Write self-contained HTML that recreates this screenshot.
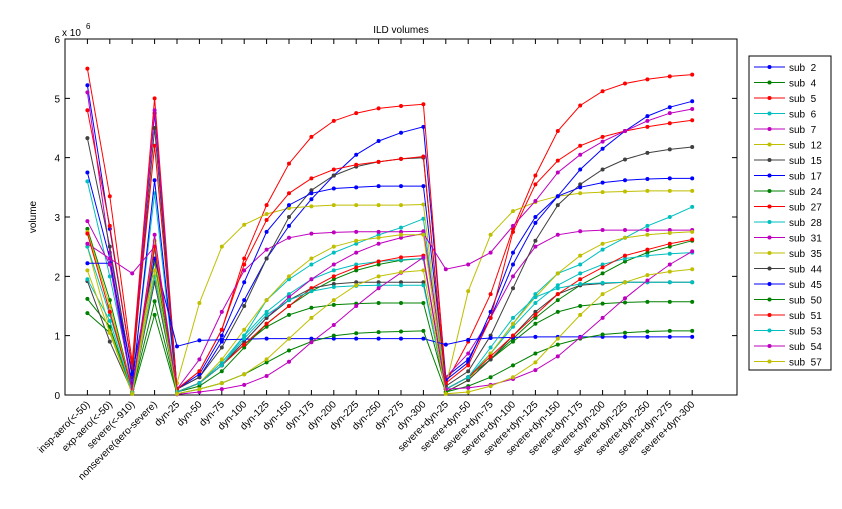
<!DOCTYPE html>
<html><head><meta charset="utf-8"><style>
body{margin:0;background:#fff;}
svg{display:block;font-family:"Liberation Sans",sans-serif;}
</style></head><body>
<svg id="chart" width="842" height="509" xmlns="http://www.w3.org/2000/svg">
<rect width="842" height="509" fill="#fff"/>
<text x="401" y="33" font-size="10" text-anchor="middle">ILD volumes</text>
<text transform="translate(36,217) rotate(-90)" font-size="10" text-anchor="middle">volume</text>
<text x="62" y="36" font-size="10">x 10</text>
<text x="86" y="29" font-size="8">6</text>
<g id="plot"></g>
<g id="legend"></g>
</svg>
<script>
const categories = ["insp-aero(<-50)","exp-aero(<-50)","severe(<-910)","nonsevere(aero-severe)",
"dyn-25","dyn-50","dyn-75","dyn-100","dyn-125","dyn-150","dyn-175","dyn-200","dyn-225","dyn-250","dyn-275","dyn-300",
"severe+dyn-25","severe+dyn-50","severe+dyn-75","severe+dyn-100","severe+dyn-125","severe+dyn-150","severe+dyn-175","severe+dyn-200","severe+dyn-225","severe+dyn-250","severe+dyn-275","severe+dyn-300"];
const seriesNames = ["sub 2","sub 4","sub 5","sub 6","sub 7","sub 12","sub 15","sub 17","sub 24","sub 27","sub 28","sub 31","sub 35","sub 44","sub 45","sub 50","sub 51","sub 53","sub 54","sub 57"];
const yTicks = [0,1,2,3,4,5,6];
// values in units of 1e6
const sub2  = [5.22,2.8,0.45,4.75, 0.1,0.3,0.9,1.6,2.3,2.85,3.3,3.7,4.05,4.28,4.42,4.52, 0.3,0.6,1.3,2.2,2.9,3.35,3.8,4.15,4.45,4.7,4.85,4.95];
const sub4  = [2.8,1.6,0.1,2.25, 0.05,0.15,0.4,0.8,1.2,1.5,1.75,1.95,2.1,2.2,2.27,2.3, 0.1,0.3,0.6,0.95,1.3,1.6,1.85,2.05,2.25,2.4,2.5,2.6];
const sub5  = [5.5,3.35,0.55,5.0, 0.1,0.4,1.1,2.3,3.2,3.9,4.35,4.62,4.75,4.83,4.87,4.9, 0.2,0.9,1.7,2.8,3.7,4.45,4.88,5.12,5.25,5.32,5.37,5.4];
const sub6  = [3.6,2.0,0.2,3.4, 0.05,0.2,0.5,1.0,1.6,1.95,2.2,2.4,2.55,2.7,2.82,2.97, 0.1,0.3,0.7,1.2,1.7,2.05,2.2,2.45,2.65,2.85,3.0,3.17];
const sub7  = [5.1,2.4,0.35,4.8, 0.1,0.6,1.4,2.1,2.45,2.65,2.72,2.74,2.75,2.75,2.75,2.76, 0.3,0.7,1.3,2.0,2.5,2.7,2.76,2.78,2.78,2.78,2.78,2.78];
const sub12 = [2.5,1.1,0.05,2.3, 0.2,1.55,2.5,2.87,3.05,3.15,3.18,3.2,3.2,3.2,3.2,3.21, 0.15,1.75,2.7,3.1,3.25,3.35,3.4,3.42,3.43,3.44,3.44,3.44];
const sub15 = [4.33,2.5,0.3,4.5, 0.1,0.3,0.8,1.5,2.3,3.0,3.45,3.7,3.85,3.93,3.98,4.0, 0.15,0.4,1.0,1.8,2.6,3.2,3.55,3.8,3.97,4.08,4.14,4.18];
const sub17 = [3.75,2.3,0.15,3.62, 0.1,0.35,1.0,1.9,2.75,3.2,3.4,3.48,3.5,3.52,3.52,3.52, 0.25,0.55,1.4,2.4,3.0,3.35,3.5,3.58,3.62,3.64,3.65,3.65];
const sub24 = [1.62,1.15,0.05,1.58, 0.05,0.2,0.5,0.85,1.15,1.35,1.47,1.52,1.54,1.55,1.55,1.55, 0.1,0.3,0.6,0.9,1.2,1.4,1.5,1.54,1.56,1.57,1.57,1.57];
const sub27 = [4.8,2.85,0.45,4.2, 0.1,0.4,1.1,2.2,2.95,3.4,3.65,3.8,3.88,3.93,3.98,4.02, 0.2,0.5,1.3,2.75,3.55,3.95,4.2,4.35,4.45,4.52,4.58,4.63];
const sub28 = [2.5,1.35,0.1,2.45, 0.05,0.2,0.55,1.0,1.4,1.7,1.95,2.1,2.2,2.25,2.28,2.3, 0.1,0.3,0.7,1.15,1.55,1.85,2.05,2.2,2.3,2.35,2.38,2.4];
const sub31 = [2.55,2.3,2.05,2.5, 0.05,0.2,0.5,0.9,1.3,1.65,1.95,2.2,2.4,2.55,2.65,2.72, 2.12,2.2,2.4,2.85,3.27,3.75,4.05,4.27,4.45,4.62,4.75,4.82];
const sub35 = [2.75,1.5,0.1,2.6, 0.05,0.2,0.6,1.1,1.6,2.0,2.3,2.5,2.6,2.65,2.7,2.7, 0.05,0.25,0.7,1.2,1.65,2.05,2.35,2.55,2.65,2.7,2.73,2.75];
const sub44 = [1.92,0.9,0.05,1.9, 0.05,0.2,0.5,0.9,1.3,1.6,1.8,1.87,1.9,1.9,1.9,1.9, 0.05,0.25,0.6,1.0,1.4,1.7,1.85,1.88,1.9,1.9,1.9,1.9];
const sub45 = [2.22,2.22,0.35,2.3, 0.82,0.92,0.93,0.94,0.95,0.95,0.95,0.95,0.95,0.95,0.95,0.95, 0.85,0.93,0.96,0.97,0.98,0.98,0.98,0.98,0.98,0.98,0.98,0.98];
const sub50 = [1.38,1.05,0.02,1.35, 0.02,0.1,0.2,0.35,0.55,0.75,0.9,1.0,1.04,1.06,1.07,1.08, 0.05,0.15,0.3,0.5,0.7,0.85,0.95,1.02,1.05,1.07,1.08,1.08];
const sub51 = [2.72,1.4,0.1,2.5, 0.05,0.2,0.5,0.85,1.2,1.5,1.8,2.0,2.15,2.25,2.32,2.35, 0.1,0.3,0.65,1.0,1.35,1.7,1.95,2.15,2.35,2.45,2.55,2.62];
const sub53 = [1.95,1.25,0.05,2.0, 0.05,0.2,0.5,0.95,1.35,1.6,1.75,1.82,1.84,1.85,1.85,1.85, 0.1,0.3,0.8,1.3,1.65,1.8,1.87,1.89,1.9,1.9,1.9,1.9];
const sub54 = [2.93,2.2,0.1,2.7, 0.01,0.05,0.1,0.17,0.32,0.56,0.89,1.18,1.5,1.8,2.06,2.32, 0.1,0.12,0.17,0.27,0.42,0.65,0.97,1.3,1.63,1.93,2.2,2.42];
const sub57 = [2.1,1.05,0.02,2.1, 0.02,0.1,0.2,0.35,0.6,0.95,1.3,1.6,1.85,2.0,2.07,2.1, 0.02,0.05,0.15,0.3,0.55,0.95,1.35,1.7,1.9,2.02,2.08,2.12];
const seriesValues = [sub2,sub4,sub5,sub6,sub7,sub12,sub15,sub17,sub24,sub27,sub28,sub31,sub35,sub44,sub45,sub50,sub51,sub53,sub54,sub57];
const palette = ["#0000ff","#008000","#ff0000","#00bfbf","#bf00bf","#bfbf00","#404040"];

const NS="http://www.w3.org/2000/svg";
const L=65,T=39,R=737,B=395;
const xMin=0,xMax=categories.length+2,yMin=0,yMax=6;
function xs(i){return L+(i+1-xMin)/(xMax-xMin)*(R-L);}
function ys(v){return B-(v-yMin)/(yMax-yMin)*(B-T);}
function mk(tag,attrs,parent){const e=document.createElementNS(NS,tag);for(const k in attrs)e.setAttribute(k,attrs[k]);parent.appendChild(e);return e;}
const plot=document.getElementById('plot');
const frame=mk('rect',{x:L,y:T,width:R-L,height:B-T,fill:'#fff',stroke:'#000','stroke-width':1},plot);


yTicks.forEach(t=>{
  const y=ys(t);
  const tk=mk('path',{d:`M${L},${y}h5M${R},${y}h-5`,stroke:'#000'},plot);
  
  
  const tx=mk('text',{x:L-5,y:y+4,'font-size':10,'text-anchor':'end'},plot);
  tx.textContent=t;
  
  
});
categories.forEach((c,i)=>{
  const x=xs(i);
  const tk=mk('path',{d:`M${x},${B}v-5M${x},${T}v5`,stroke:'#000'},plot);
  
  
  const tx=mk('text',{transform:`translate(${x+3},${B+10}) rotate(-45)`,'font-size':10,'text-anchor':'end'},plot);
  tx.textContent=c;
  
  
});
seriesValues.forEach((vals,s)=>{
  const col=palette[s%7];
  const g=mk('g',{},plot);
  
  
  const pts=vals.map((v,i)=>xs(i).toFixed(1)+','+ys(v).toFixed(1)).join(' ');
  const ln=mk('polyline',{points:pts,fill:'none',stroke:col,'stroke-width':1},g);
  
  
  vals.forEach((v,i)=>{
    const p=mk('circle',{cx:xs(i),cy:ys(v),r:2,fill:col},g);
    
    
  });
});
const leg=document.getElementById('legend');
const lb=mk('rect',{x:749,y:56,width:82,height:314,fill:'#fff',stroke:'#000'},leg);


seriesNames.forEach((n,s)=>{
  const y=67+s*15.5, col=palette[s%7];
  const g=mk('g',{},leg);
  
  
  mk('line',{x1:754,x2:785,y1:y,y2:y,stroke:col},g);
  mk('circle',{cx:769.5,cy:y,r:2,fill:col},g);
  const t=mk('text',{x:789,y:y+4,'font-size':10,'xml:space':'preserve'},g);
  t.textContent=n.replace(' ','\u00a0\u00a0');
});
</script>
</body></html>
